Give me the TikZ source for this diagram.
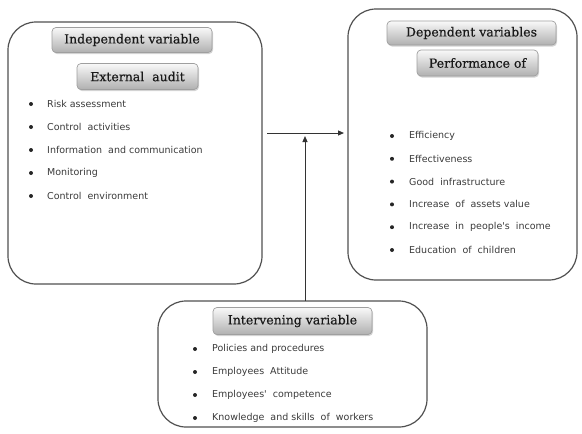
\documentclass[tikz,border=0pt]{standalone}
\usepackage{fontspec}
\setmainfont{DejaVu Serif}
\newfontfamily\labelfont[FakeBold=0.5]{DejaVu Serif}
\newfontfamily\itemfont{DejaVu Sans}
\usetikzlibrary{shadows,arrows.meta}
\definecolor{frame}{HTML}{505050}
\definecolor{itemtxt}{HTML}{3A3A3A}
\tikzset{
  bigbox/.style={draw=frame, line width=1.2pt, rounded corners=28pt},
  labelbox/.style={draw=gray!75, line width=0.7pt, rounded corners=4pt,
    top color=gray!5, bottom color=gray!62, drop shadow={shadow xshift=1pt,shadow yshift=-1.5pt,opacity=0.35},
    font=\labelfont\fontsize{12.5}{14}\selectfont, text=black!90, inner sep=0pt},
  itemtext/.style={anchor=west, font=\itemfont\fontsize{9.5}{10}\selectfont, text=itemtxt, inner sep=0pt},
  bulletdot/.style={circle, fill=black!85, inner sep=0pt, minimum size=4pt},
  conn/.style={draw=black!80, line width=1pt},
  tip/.style={-{Triangle[length=6pt,width=5pt]}}
}
\begin{document}
\begin{tikzpicture}[x=1pt,y=-1pt]
\useasboundingbox (0,0) rectangle (582,434);
% big boxes
\draw[bigbox] (8,22) rectangle (262,284);
\draw[bigbox] (348,9) rectangle (577,280);
\draw[bigbox] (158,301) rectangle (427,427);
\coordinate (Lr) at (267,133);
\coordinate (Rl) at (344,133);
\coordinate (Bt) at (305,301);
\coordinate (Jn) at (305,136);
% label boxes
\node[labelbox, minimum width=160pt, minimum height=25pt] (indep) at (132,40) {Independent variable};
\node[labelbox, minimum width=121pt, minimum height=26pt] (ext) at (137.5,76.5) {External\ \ audit};
\node[labelbox, minimum width=169pt, minimum height=24pt] (dep) at (471.5,33) {Dependent variables};
\node[labelbox, minimum width=121pt, minimum height=26pt] (perf) at (477.5,63) {Performance of};
\node[labelbox, minimum width=159pt, minimum height=27pt] (interv) at (292.5,321) {Intervening variable};
% left items
\foreach \t [count=\i] in {Risk assessment, Control\ \ activities, Information\ \ and communication, Monitoring, Control\ \ environment}{
  \node[bulletdot] (lb\i) at (31,{104+(\i-1)*23}) {};
  \node[itemtext] (lt\i) at (47,{104+(\i-1)*23}) {\t};
}
% right items
\foreach \t [count=\i] in {Efficiency, Effectiveness, Good\ \ infrastructure, Increase\ \ of\ \ assets value, Increase\ \ in\ \ people's\ \ income, Education\ \ of\ \ children}{
  \node[bulletdot] (rb\i) at (392,{136+(\i-1)*22.8}) {};
  \node[itemtext] (rt\i) at (409,{136+(\i-1)*22.8}) {\t};
}
% bottom items
\foreach \t [count=\i] in {Policies and procedures, Employees\ \ Attitude, Employees'\ \ competence, Knowledge\ \ and skills\ \ of\ \ workers}{
  \node[bulletdot] (bb\i) at (195,{349+(\i-1)*23}) {};
  \node[itemtext] (bt\i) at (212,{349+(\i-1)*23}) {\t};
}
% connectors
\draw[conn, tip] (Lr) -- (Rl);
\draw[conn, tip] (Bt) -- (Jn);
\end{tikzpicture}
\end{document}
